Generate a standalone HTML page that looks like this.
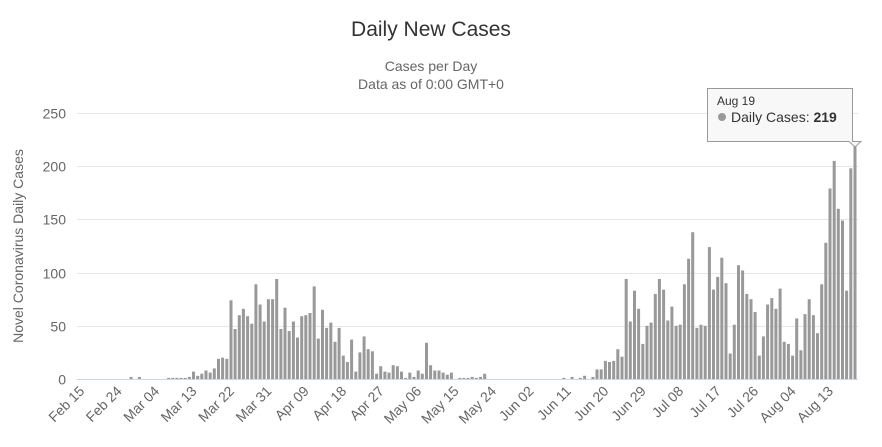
<!DOCTYPE html>
<html><head><meta charset="utf-8"><style>
html,body{margin:0;padding:0;background:#fff;}
svg{display:block;font-family:"Liberation Sans",Arial,sans-serif;}
</style></head><body>
<svg id="c" width="882" height="447" xmlns="http://www.w3.org/2000/svg">
<text x="431" y="36" text-anchor="middle" font-size="21" fill="#333">Daily New Cases</text>
<text x="431" y="71" text-anchor="middle" font-size="14" fill="#666">Cases per Day</text>
<text x="431" y="89" text-anchor="middle" font-size="14" fill="#666">Data as of 0:00 GMT+0</text>
<text transform="translate(23,246) rotate(-90)" text-anchor="middle" font-size="14" fill="#666">Novel Coronavirus Daily Cases</text>
<g id="grid"></g>
<g id="bars"></g>
<g id="xl"></g>
<g>
<path d="M707.5,88.5 H852.5 V141.5 H861 L855,147 L849,141.5 H707.5 Z" fill="#f7f7f7" fill-opacity="0.9" stroke="#999" stroke-width="1"/>
<text x="717" y="105" font-size="12" fill="#333">Aug 19</text>
<circle cx="722" cy="117" r="4" fill="#999"/>
<text x="731" y="122" font-size="14" fill="#333">Daily Cases: <tspan font-weight="bold">219</tspan></text>
</g>
</svg>
<script>
var d=new Array(187).fill(0);
d[12]=2;d[14]=2;d[21]=1;d[22]=1;d[23]=1;d[24]=1;
var a=[1,2,7,3,5,8,6,10,19,20,19];for(var i=0;i<a.length;i++)d[25+i]=a[i];
a=[74,47,60,66,59,52,89,70,54,75,75,94,47,67,45,54,39,59,60,62,87,38,65,48,53,35,48,22,16];for(i=0;i<a.length;i++)d[36+i]=a[i];
a=[37,7,25,40,28,26,5,12,7,6,13,12,7,1,6,2,8,5,34,13,8,8,6,4,6,0,1,1,1,2,1,2,5];for(i=0;i<a.length;i++)d[65+i]=a[i];
d[116]=1;d[118]=2;d[120]=1;d[121]=3;
a=[2,9,9,17,16,17,28,21,94,54,83,66,33,50,53,80,94,84,55,68,50,51,89,113,138,48,51,50,124,84,96];for(i=0;i<a.length;i++)d[123+i]=a[i];
a=[114,90,24,51,107,102,80,75,63,22,40,70,76,66,85,35,33,22,57,27,61,75,60,43,89,128,179,205,160,149,83,198,219];for(i=0;i<a.length;i++)d[154+i]=a[i];
var NS="http://www.w3.org/2000/svg";
function el(t,at,p,txt){var e=document.createElementNS(NS,t);for(var k in at)e.setAttribute(k,at[k]);if(txt!=null)e.textContent=txt;p.appendChild(e);return e;}
var g=document.getElementById('grid'),b=document.getElementById('bars'),xl=document.getElementById('xl');
var y0=379,s=1.064;
for(var v=0;v<=250;v+=50){var y=Math.round(y0-v*s)+0.5;
 if(v>0)el('line',{x1:77,x2:858,y1:y,y2:y,stroke:'#e6e6e6','stroke-width':1},g);
 el('text',{x:66,y:y+5,'text-anchor':'end','font-size':14,fill:'#666'},g,v);}
el('line',{x1:77,x2:858,y1:379.5,y2:379.5,stroke:'#ccd6eb','stroke-width':1},g);
var x0=81.2,dx=4.16;
for(i=0;i<187;i++){if(d[i]<=0)continue;var h=d[i]*s;el('rect',{x:(x0+i*dx-1.5).toFixed(1),y:(y0-h).toFixed(1),width:3,height:h.toFixed(1),fill:'#999'},b);}
var L=["Feb 15","Feb 24","Mar 04","Mar 13","Mar 22","Mar 31","Apr 09","Apr 18","Apr 27","May 06","May 15","May 24","Jun 02","Jun 11","Jun 20","Jun 29","Jul 08","Jul 17","Jul 26","Aug 04","Aug 13"];
for(i=0;i<L.length;i++){var x=x0+i*9*dx+4;el('text',{transform:'translate('+x.toFixed(1)+',392) rotate(-45)','text-anchor':'end','font-size':14,fill:'#666'},xl,L[i]);}
</script>
</body></html>
